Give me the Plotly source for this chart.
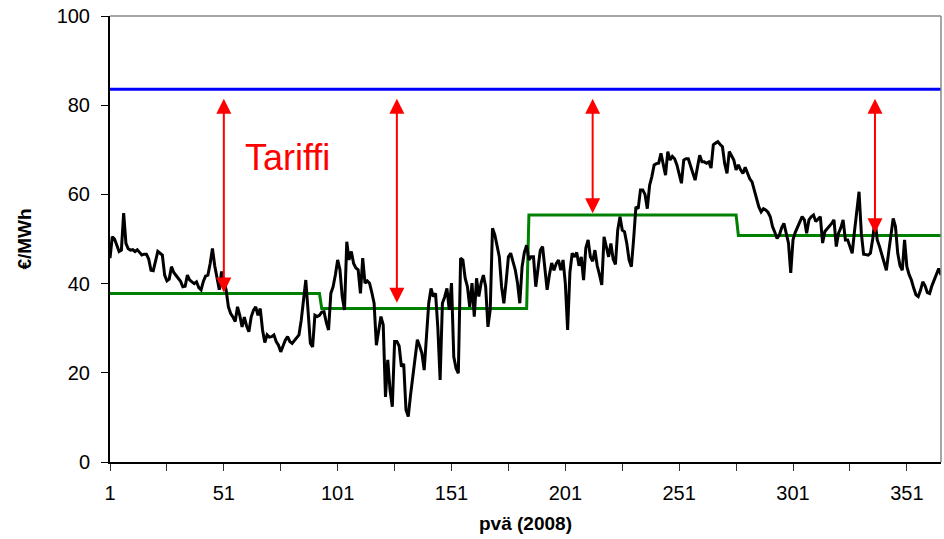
import plotly.graph_objects as go

# ---- data ----
price = [
    45.7, 50.5, 50.0, 48.5, 47.2, 47.5, 55.8, 49.0, 47.8, 47.5,
    47.6, 47.2, 47.6, 47.0, 46.4, 46.6, 46.6, 45.5, 43.0, 42.9,
    45.2, 47.2, 46.8, 46.4, 41.9, 40.6, 41.0, 43.8, 42.5, 41.9,
    41.1, 40.5, 39.3, 39.4, 41.9, 40.8, 40.4, 40.0, 40.4, 39.1,
    38.6, 40.5, 41.7, 41.9, 44.5, 47.9, 44.0, 40.8, 38.6, 42.7,
    40.8, 38.6, 34.8, 33.3, 32.5, 31.5, 34.8, 32.9, 30.3, 32.5,
    30.5, 29.2, 32.5, 34.0, 34.8, 32.9, 34.4, 29.6, 26.8, 28.5,
    28.0, 28.1, 28.5, 27.0, 26.2, 24.7, 26.0, 27.3, 28.1, 27.0,
    26.6, 27.3, 28.0, 28.5, 31.8, 36.3, 40.8, 33.9, 26.6, 25.8,
    32.9, 32.6, 32.9, 33.6, 33.7, 31.3, 29.6, 37.8, 39.3, 42.0,
    45.3, 43.1, 37.1, 34.1, 49.4, 45.3, 47.2, 44.5, 43.5, 43.1,
    37.8, 45.7, 40.1, 40.6, 40.1, 38.0, 35.6, 26.2, 29.6, 32.6,
    30.8, 14.6, 22.9, 16.1, 12.4, 27.0, 27.0, 26.0, 21.4, 22.0,
    11.7, 10.2, 15.0, 19.1, 24.4, 27.4, 26.0, 24.4, 20.6, 28.9,
    35.6, 38.9, 37.1, 37.8, 30.0, 18.4, 35.6, 37.0, 38.9, 34.1,
    40.1, 23.6, 21.0, 19.9, 45.7, 45.3, 41.2, 39.3, 34.8, 40.1,
    32.6, 41.2, 37.1, 40.1, 41.9, 39.3, 30.3, 34.1, 52.4, 51.0,
    48.0, 46.0, 39.3, 35.6, 40.5, 46.0, 46.8, 45.0, 43.1, 40.1,
    35.6, 43.8, 47.0, 48.6, 45.3, 46.0, 46.0, 39.3, 44.0, 47.5,
    48.3, 44.0, 38.6, 42.0, 44.6, 43.0, 44.5, 45.3, 43.0, 45.3,
    40.0, 29.6, 42.5, 46.8, 46.0, 47.0, 44.0, 46.0, 40.8, 48.0,
    49.8, 46.0, 45.0, 47.5, 44.0, 42.0, 39.7, 50.5, 48.0, 46.0,
    49.0, 45.5, 44.3, 52.0, 55.0, 52.0, 51.6, 49.0, 45.3, 43.8,
    50.0, 57.2, 56.8, 61.0, 61.0, 60.0, 56.8, 62.0, 64.0, 66.6,
    66.9, 67.0, 69.2, 66.4, 64.3, 69.6, 67.7, 68.5, 68.0, 66.6,
    64.5, 62.5, 67.7, 68.0, 68.0, 66.4, 64.5, 63.2, 66.0, 68.8,
    67.3, 67.3, 67.0, 67.3, 65.9, 71.1, 71.5, 71.8, 71.2, 70.7,
    66.9, 64.7, 69.6, 68.5, 67.7, 65.5, 66.6, 65.5, 64.7, 66.1,
    64.7, 63.5, 62.8, 61.0, 59.0, 57.2, 56.1, 56.8, 56.5, 56.0,
    55.0, 52.8, 51.5, 50.1, 50.9, 52.5, 53.5, 51.3, 49.1, 42.4,
    49.8, 51.5, 52.8, 54.0, 55.0, 54.3, 51.3, 54.3, 55.0, 55.4,
    53.9, 54.5, 55.0, 49.1, 51.7, 52.3, 52.8, 53.5, 54.3, 48.3,
    51.3, 52.5, 54.3, 49.8, 49.8, 48.0, 46.8, 51.7, 56.0, 60.6,
    51.3, 46.6, 46.5, 46.4, 46.8, 50.0, 54.3, 49.8, 48.3, 46.5,
    45.3, 43.0, 47.0, 51.3, 54.6, 52.8, 46.8, 44.0, 43.0, 49.8,
    43.8, 42.0, 40.8, 39.0, 37.5, 37.1, 38.5, 40.4, 39.5, 38.0,
    37.8, 39.5, 40.8, 42.0, 43.4, 41.9,
]
days = list(range(1, len(price) + 1))

# quarterly averages (step line)
quarter_start = [1, 94, 185, 277]
quarter_end = [93, 184, 276, 366]
quarter_avg = [37.8, 34.4, 55.4, 50.8]

tariff_level = 83.6

arrow_days = [51, 127, 213, 337]
arrow_top = [81.8, 81.8, 81.8, 81.8]
arrow_bottom = [38.0, 35.7, 55.8, 51.3]

x_tickvals = list(range(1, 367, 25))
x_ticktext = [str(v) if (v - 1) % 50 == 0 else "" for v in x_tickvals]
y_tickvals = [0, 20, 40, 60, 80, 100]

# ---- build step line ----
step_x, step_y = [], []
for s, e, v in zip(quarter_start, quarter_end, quarter_avg):
    step_x += [s, e]
    step_y += [v, v]

fig = go.Figure()
fig.add_trace(go.Scatter(x=[days[0], days[-1]], y=[tariff_level, tariff_level], mode="lines",
                         line=dict(color="#0000FF", width=3), hoverinfo="skip"))
fig.add_trace(go.Scatter(x=step_x, y=step_y, mode="lines",
                         line=dict(color="#008000", width=3), hoverinfo="skip"))
fig.add_trace(go.Scatter(x=days, y=price, mode="lines",
                         line=dict(color="#000000", width=3)))

for d, t, b in zip(arrow_days, arrow_top, arrow_bottom):
    fig.add_annotation(x=d, y=b, ax=d, ay=t, xref="x", yref="y", axref="x", ayref="y",
                       text="", showarrow=True, arrowside="end+start",
                       arrowhead=2, startarrowhead=2, arrowsize=1.5, startarrowsize=1.5,
                       arrowwidth=2, arrowcolor="#FF0000", standoff=0, startstandoff=0)

fig.add_annotation(x=59.4, y=68.2, xref="x", yref="y", text="Tariffi", showarrow=False,
                   xanchor="left", yanchor="middle",
                   font=dict(family="Liberation Sans, Arial", size=36, color="#FF0000"))

fig.add_annotation(x=-0.104, y=0.5, xref="paper", yref="paper", text="<b>€/MWh</b>",
                   showarrow=False, textangle=-90, xanchor="center", yanchor="middle",
                   font=dict(family="Liberation Sans, Arial", size=19, color="#000000"))

# top/right frame
fig.add_shape(type="line", xref="paper", yref="paper", x0=0, x1=1, y0=1, y1=1,
              line=dict(color="#888888", width=1.5))
fig.add_shape(type="line", xref="paper", yref="paper", x0=1, x1=1, y0=0, y1=1,
              line=dict(color="#888888", width=1.5))

fig.update_layout(
    width=944, height=539,
    margin=dict(l=110, r=3, t=16, b=77),
    paper_bgcolor="white", plot_bgcolor="white",
    showlegend=False,
    font=dict(family="Liberation Sans, Arial", size=20, color="#000000"),
    xaxis=dict(range=[1, 366], tickvals=x_tickvals, ticktext=x_ticktext, automargin=False,
               showgrid=False, zeroline=False, showline=True, linecolor="#000000", linewidth=2,
               ticks="outside", ticklen=7, tickwidth=1, tickcolor="#333333",
               ticklabelstandoff=5,
               title=dict(text="<b>pvä (2008)</b>", font=dict(size=19), standoff=14)),
    yaxis=dict(range=[0, 100], tickvals=y_tickvals, automargin=False,
               showgrid=False, zeroline=False, showline=True, linecolor="#000000", linewidth=2,
               ticks="outside", ticklen=7, tickwidth=1, tickcolor="#000000",
               ticklabelstandoff=7),
)

fig.write_html("out.html", config={"displayModeBar": False},
               post_script="document.body.style.margin='0';document.body.style.overflow='hidden';")
